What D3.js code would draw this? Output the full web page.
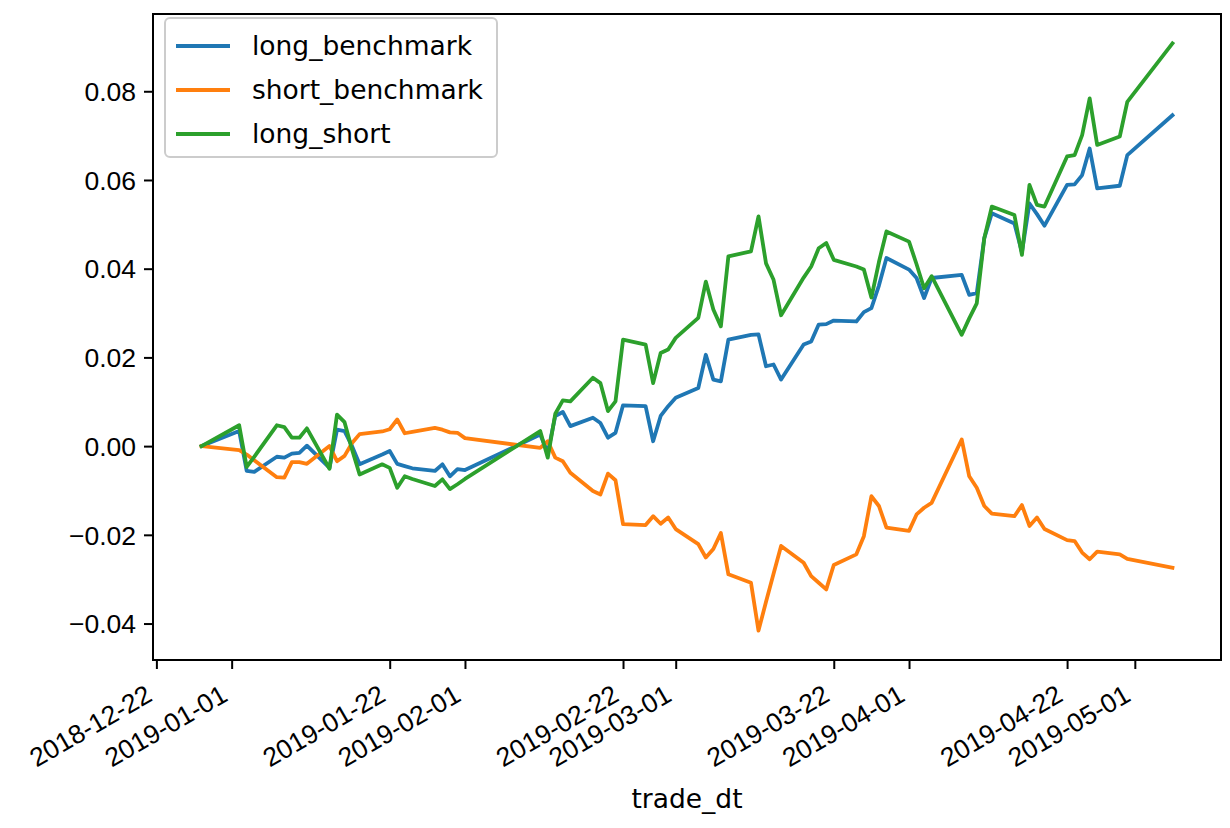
<!DOCTYPE html>
<html>
<head>
<meta charset="utf-8">
<script src="https://cdn.jsdelivr.net/npm/d3@7"></script>
<style>
  body { margin: 0; background: #fff; }
  svg { display: block; font-family: "DejaVu Sans", sans-serif; }
</style>
</head>
<body>
<svg id="chart" width="1230" height="828"></svg>
<script>
// trading days
const dates = [
  "2018-12-28",
  "2019-01-02","2019-01-03","2019-01-04","2019-01-07","2019-01-08","2019-01-09","2019-01-10","2019-01-11",
  "2019-01-14","2019-01-15","2019-01-16","2019-01-17","2019-01-18","2019-01-21","2019-01-22","2019-01-23",
  "2019-01-24","2019-01-25","2019-01-28","2019-01-29","2019-01-30","2019-01-31","2019-02-01",
  "2019-02-11","2019-02-12","2019-02-13","2019-02-14","2019-02-15","2019-02-18","2019-02-19","2019-02-20",
  "2019-02-21","2019-02-22","2019-02-25","2019-02-26","2019-02-27","2019-02-28",
  "2019-03-01","2019-03-04","2019-03-05","2019-03-06","2019-03-07","2019-03-08","2019-03-11","2019-03-12",
  "2019-03-13","2019-03-14","2019-03-15","2019-03-18","2019-03-19","2019-03-20","2019-03-21","2019-03-22",
  "2019-03-25","2019-03-26","2019-03-27","2019-03-28","2019-03-29",
  "2019-04-01","2019-04-02","2019-04-03","2019-04-04","2019-04-08","2019-04-09","2019-04-10","2019-04-11",
  "2019-04-12","2019-04-15","2019-04-16","2019-04-17","2019-04-18","2019-04-19","2019-04-22","2019-04-23",
  "2019-04-24","2019-04-25","2019-04-26","2019-04-29","2019-04-30",
  "2019-05-06"
];

const longBenchmark = [
  0,
  0.0034,-0.0056,-0.0058,-0.0024,-0.0026,-0.0017,-0.0015,0.0001,
  -0.0049,0.0037,0.0034,0.0000,-0.0041,-0.0019,-0.0011,-0.0040,
  -0.0045,-0.0050,-0.0056,-0.0041,-0.0068,-0.0052,-0.0054,
  0.0026,-0.0015,0.0068,0.0077,0.0045,0.0064,0.0052,0.0019,
  0.0030,0.0092,0.0090,0.0011,0.0068,0.0090,
  0.0109,0.0131,0.0206,0.0150,0.0146,0.0240,0.0251,0.0252,
  0.0180,0.0184,0.0150,0.0229,0.0236,0.0274,0.0275,0.0283,
  0.0281,0.0302,0.0311,0.0362,0.0424,
  0.0398,0.0379,0.0334,0.0379,0.0386,0.0341,0.0345,0.0469,
  0.0525,0.0502,0.0437,0.0547,0.0523,0.0497,0.0589,0.0590,
  0.0611,0.0671,0.0581,0.0587,0.0656,
  0.0746
];

const shortBenchmark = [
  0,
  -0.0009,-0.0019,-0.0032,-0.0070,-0.0071,-0.0036,-0.0036,-0.0040,
  0.0000,-0.0034,-0.0022,0.0007,0.0027,0.0033,0.0038,0.0060,
  0.0029,0.0032,0.0041,0.0037,0.0031,0.0030,0.0018,
  -0.0004,0.0011,-0.0026,-0.0034,-0.0060,-0.0101,-0.0109,-0.0062,
  -0.0077,-0.0176,-0.0178,-0.0158,-0.0175,-0.0161,
  -0.0187,-0.0221,-0.0251,-0.0232,-0.0196,-0.0289,-0.0308,-0.0416,
  -0.0351,-0.0288,-0.0225,-0.0263,-0.0293,-0.0308,-0.0323,-0.0268,
  -0.0244,-0.0203,-0.0113,-0.0135,-0.0184,
  -0.0191,-0.0154,-0.0139,-0.0128,0.0015,-0.0068,-0.0094,-0.0135,
  -0.0152,-0.0158,-0.0133,-0.0180,-0.0161,-0.0187,-0.0212,-0.0214,
  -0.0240,-0.0255,-0.0238,-0.0244,-0.0254,
  -0.0274
];

const longShort = [
  0,
  0.0047,-0.0047,-0.0024,0.0047,0.0043,0.0019,0.0019,0.0040,
  -0.0051,0.0071,0.0054,-0.0008,-0.0064,-0.0041,-0.0049,-0.0094,
  -0.0068,-0.0074,-0.0090,-0.0075,-0.0097,-0.0086,-0.0074,
  0.0034,-0.0026,0.0073,0.0103,0.0101,0.0154,0.0142,0.0079,
  0.0101,0.0240,0.0229,0.0142,0.0210,0.0218,
  0.0244,0.0289,0.0371,0.0308,0.0270,0.0428,0.0439,0.0518,
  0.0412,0.0375,0.0295,0.0380,0.0405,0.0446,0.0458,0.0420,
  0.0405,0.0398,0.0335,0.0415,0.0484,
  0.0461,0.0410,0.0356,0.0383,0.0251,0.0288,0.0322,0.0469,
  0.0540,0.0521,0.0431,0.0589,0.0544,0.0540,0.0653,0.0656,
  0.0701,0.0784,0.0679,0.0698,0.0776,
  0.0908
];

const seriesNames = ["long_benchmark", "short_benchmark", "long_short"];
const seriesColors = ["#1f77b4", "#ff7f0e", "#2ca02c"];
const xTickLabels = ["2018-12-22","2019-01-01","2019-01-22","2019-02-01","2019-02-22",
                     "2019-03-01","2019-03-22","2019-04-01","2019-04-22","2019-05-01"];
const yTickValues = [-0.04, -0.02, 0.00, 0.02, 0.04, 0.06, 0.08];

const parse = d3.utcParse("%Y-%m-%d");
const fmtDate = d3.utcFormat("%Y-%m-%d");
const fs = 26.5; // font size px

const svg = d3.select("#chart");
const margin = {left: 153, top: 14, right: 9, bottom: 168};
const width = 1230 - margin.left - margin.right,
      height = 828 - margin.top - margin.bottom;

const g = svg.append("g").attr("transform", `translate(${margin.left},${margin.top})`);

const xDates = dates.map(parse);
const series = [longBenchmark, shortBenchmark, longShort].map((vals, i) => ({
  name: seriesNames[i],
  color: seriesColors[i],
  values: vals.map((v, j) => ({date: xDates[j], value: v}))
}));

// matplotlib style 5% margins
const xExt = d3.extent(xDates);
const xPad = (xExt[1] - xExt[0]) * 0.05;
const x = d3.scaleUtc()
  .domain([new Date(+xExt[0] - xPad), new Date(+xExt[1] + xPad)])
  .range([0, width]);

const allVals = [].concat(longBenchmark, shortBenchmark, longShort);
const yExt = d3.extent(allVals);
const yPad = (yExt[1] - yExt[0]) * 0.05;
const y = d3.scaleLinear()
  .domain([yExt[0] - yPad, yExt[1] + yPad])
  .range([height, 0]);

// lines
const line = d3.line().x(d => x(d.date)).y(d => y(d.value));
g.selectAll(".series")
  .data(series)
  .enter().append("path")
  .attr("class", "series")
  .attr("d", d => line(d.values))
  .style("fill", "none")
  .style("stroke", d => d.color)
  .style("stroke-width", 3.8)
  .style("stroke-linejoin", "round")
  .style("stroke-linecap", "square");

// axes
const yAxis = g.append("g")
  .call(d3.axisLeft(y).tickValues(yTickValues).tickFormat(d3.format(".2f"))
    .tickSize(9).tickPadding(8).tickSizeOuter(0));
yAxis.select(".domain").remove();
yAxis.selectAll("line").style("stroke", "#000").style("stroke-width", 2);
yAxis.selectAll("text").style("font-size", fs + "px").style("fill", "#000")
  .attr("dy", "0.35em");

const xAxis = g.append("g")
  .attr("transform", `translate(0,${height})`)
  .call(d3.axisBottom(x).tickValues(xTickLabels.map(parse)).tickFormat(fmtDate)
    .tickSize(9).tickSizeOuter(0));
xAxis.select(".domain").remove();
xAxis.selectAll("line").style("stroke", "#000").style("stroke-width", 2);
xAxis.selectAll("text")
  .style("font-size", fs + "px").style("fill", "#000")
  .attr("x", 0).attr("y", 0).attr("dy", 0)
  .attr("text-anchor", "end")
  .attr("transform", "translate(-3,40) rotate(-30)");

// frame
g.append("rect")
  .attr("width", width).attr("height", height)
  .style("fill", "none").style("stroke", "#000").style("stroke-width", 2);

// x label
g.append("text")
  .attr("x", width / 2).attr("y", 808 - margin.top)
  .attr("text-anchor", "middle")
  .style("font-size", fs + "px")
  .text("trade_dt");

// legend
const legend = g.append("g").attr("transform", "translate(12,4)");
legend.append("rect")
  .attr("width", 332).attr("height", 139)
  .attr("rx", 5).attr("ry", 5)
  .style("fill", "rgba(255,255,255,0.8)")
  .style("stroke", "#cccccc").style("stroke-width", 2);
const rows = legend.selectAll(".row")
  .data(series)
  .enter().append("g")
  .attr("transform", (d, i) => `translate(0,${28 + i * 44})`);
rows.append("line")
  .attr("x1", 11).attr("x2", 65)
  .style("stroke", d => d.color).style("stroke-width", 3.8);
rows.append("text")
  .attr("x", 87).attr("dy", "0.35em")
  .style("font-size", fs + "px")
  .text(d => d.name);
</script>
</body>
</html>
